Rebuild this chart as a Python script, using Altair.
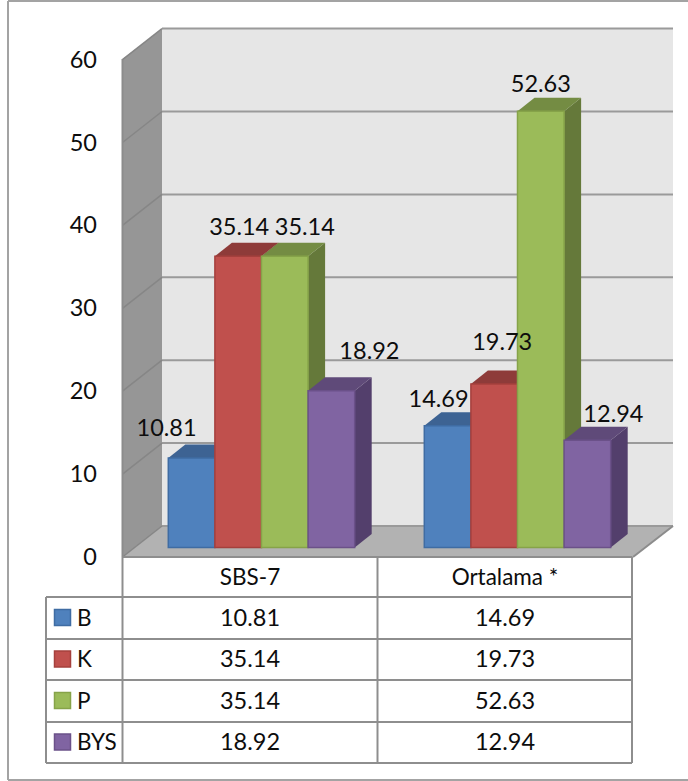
import altair as alt
import pandas as pd

# Chart values
CATEGORIES = ["SBS-7", "Ortalama *"]
SERIES = ["B", "K", "P", "BYS"]
SBS_7 = [10.81, 35.14, 35.14, 18.92]
ORTALAMA = [14.69, 19.73, 52.63, 12.94]
Y_TICKS = [0, 10, 20, 30, 40, 50, 60]

# Face colours per series
FRONT = ["#4F81BD", "#C0504D", "#9BBB59", "#8064A2"]
EDGE = ["#3F6CA3", "#A5403D", "#86A349", "#6B5189"]
TOP = ["#3D6393", "#8E3B39", "#748C43", "#5F4A79"]
SIDE = ["#3A5D88", "#843735", "#65793A", "#533F6C"]

# Layout, in canvas units
W, H = 688, 781
UNIT = 8.29          # canvas units per value unit
BASE = 547.5         # where value 0 sits on the front of the bars
BAR_W = 46.6
GROUP_X = [168.3, 424.3]
DEPTH_X, DEPTH_Y = 17, 13.5
FRONT_0, BACK_0 = 557, 526
WALL_L, WALL_B, WALL_R, FLOOR_R = 122.5, 162, 673, 633
# Label nudges from each bar's centre and top, per category then series
LABEL_DX = [[-25, 1, 20, 38], [-9, 8, 0, 26]]
LABEL_DY = [[-30, -29, -29, -40], [-27, -42, -27, -26]]
FONT = "Lato"
NUMBER_SIZE = 23.5
WORD_SIZE = 22.5
INK = "#0D0D0D"


def u(py):
    """Canvas row converted into value units on the shared y scale."""
    return (BASE - py) / UNIT


X = alt.X("x:Q", axis=None, scale=alt.Scale(domain=[0, W], range=[0, W], nice=False, zero=False))
Y = alt.Y("y:Q", axis=None, scale=alt.Scale(domain=[u(H), u(0)], range=[H, 0], nice=False, zero=False))
X2 = alt.X2("x2:Q")
Y2 = alt.Y2("y2:Q")


def rect(rows, **style):
    return alt.Chart(pd.DataFrame(rows)).mark_rect(**style).encode(x=X, x2=X2, y=Y, y2=Y2)


def side_face(x0, x1, top0, top1, bot0, bot1, color):
    data = pd.DataFrame([
        {"x": x0, "y": top0, "y2": bot0},
        {"x": x1, "y": top1, "y2": bot1},
    ])
    return alt.Chart(data).mark_area(color=color, opacity=1).encode(x=X, y=Y, y2=Y2)


def top_face(y0, y1, x00, x01, x10, x11, color):
    data = pd.DataFrame([
        {"y": y0, "x": x00, "x2": x01},
        {"y": y1, "x": x10, "x2": x11},
    ])
    return alt.Chart(data).mark_area(color=color, opacity=1, orient="horizontal").encode(y=Y, x=X, x2=X2)


def lines(rows, color, width):
    data = pd.DataFrame(
        [{"id": i, "x": p[0], "y": p[1]} for i, r in enumerate(rows) for p in r]
    )
    return alt.Chart(data).mark_line(color=color, strokeWidth=width).encode(
        x=X, y=Y, detail="id:N", order=alt.Order("x:Q")
    )


def labels(rows, align="center", size=NUMBER_SIZE):
    return alt.Chart(pd.DataFrame(rows)).mark_text(
        font=FONT, fontSize=size, align=align, baseline="middle", color=INK, dy=1
    ).encode(x=X, y=Y, text="text:N")


layers = []

# Outer frame
layers.append(lines([
    [(8, u(1)), (W, u(1))],
    [(8, u(780)), (W, u(780))],
    [(8, u(1)), (8, u(780))],
], "#A3A3A3", 2))

# Walls and floor
layers.append(rect([{"x": WALL_B, "x2": WALL_R, "y": u(29), "y2": u(BACK_0)}], color="#E6E6E6"))
layers.append(side_face(WALL_L, WALL_B, u(59), u(29), u(FRONT_0), u(BACK_0), "#969696"))
layers.append(top_face(u(FRONT_0), u(BACK_0), WALL_L, FLOOR_R, WALL_B, WALL_R, "#B2B2B2"))

back_shift = u(BACK_0)
front_shift = u(FRONT_0)
layers.append(lines(
    [[(WALL_B, t + back_shift), (WALL_R, t + back_shift)] for t in Y_TICKS],
    "#9A9A9A", 2,
))
layers.append(lines(
    [[(WALL_L, t + front_shift), (WALL_B, t + back_shift)] for t in Y_TICKS],
    "#868686", 1.5,
))
layers.append(lines([
    [(WALL_L, u(59)), (WALL_L, u(FRONT_0))],
    [(FLOOR_R, front_shift), (WALL_R, back_shift)],
], "#8C8C8C", 2))

# Bars: each series draws its depth faces, then its front
depth = DEPTH_Y / UNIT
for s in range(len(SERIES)):
    vals = [SBS_7[s], ORTALAMA[s]]
    for g, v in enumerate(vals):
        x0 = GROUP_X[g] + s * BAR_W
        x1 = x0 + BAR_W
        layers.append(side_face(x1, x1 + DEPTH_X, v, v + depth, 0, depth, SIDE[s]))
        layers.append(top_face(v, v + depth, x0, x1, x0 + DEPTH_X, x1 + DEPTH_X, TOP[s]))
    layers.append(rect(
        [{"x": GROUP_X[g] + s * BAR_W, "x2": GROUP_X[g] + (s + 1) * BAR_W, "y": v, "y2": 0}
         for g, v in enumerate(vals)],
        color=FRONT[s], stroke=EDGE[s], strokeWidth=1.5,
    ))

# Value labels above the bars
bar_labels = []
for g, vals in enumerate([SBS_7, ORTALAMA]):
    for s, v in enumerate(vals):
        bar_labels.append({
            "x": GROUP_X[g] + (s + 0.5) * BAR_W + LABEL_DX[g][s],
            "y": v - LABEL_DY[g][s] / UNIT,
            "text": f"{v:.2f}",
        })
layers.append(labels(bar_labels))

# Value axis labels on the front edge of the side wall
layers.append(labels(
    [{"x": 97, "y": t + front_shift, "text": str(t)} for t in Y_TICKS],
    align="right",
))

# Data table
ROWS = [597, 639, 680, 722, 763]
COLS = [122.5, 377.5, 632]
TABLE_LEFT = 46
grid = [[(TABLE_LEFT, u(r)), (COLS[-1], u(r))] for r in ROWS]
grid.append([(COLS[0], u(FRONT_0)), (COLS[-1], u(FRONT_0))])
grid += [[(c, u(FRONT_0)), (c, u(ROWS[-1]))] for c in COLS]
grid.append([(TABLE_LEFT, u(ROWS[0])), (TABLE_LEFT, u(ROWS[-1]))])
layers.append(lines(grid, "#8E8E8E", 2))

COL_CENTRES = [250, 505]
layers.append(labels(
    [{"x": COL_CENTRES[i], "y": u(577), "text": c} for i, c in enumerate(CATEGORIES)],
    size=WORD_SIZE,
))
cells, names = [], []
for s, name in enumerate(SERIES):
    mid = (ROWS[s] + ROWS[s + 1]) / 2 - 0.5
    names.append({"x": 77, "y": u(mid), "text": name})
    for g, vals in enumerate([SBS_7, ORTALAMA]):
        cells.append({"x": COL_CENTRES[g], "y": u(mid), "text": f"{vals[s]:.2f}"})
    layers.append(rect(
        [{"x": 54.5, "x2": 70.5, "y": u(mid - 8), "y2": u(mid + 8)}],
        color=FRONT[s], stroke=EDGE[s], strokeWidth=1.5,
    ))
layers.append(labels(cells))
layers.append(labels(names, align="left", size=WORD_SIZE))

chart = alt.layer(*layers).properties(
    width=W, height=H, padding=0, background="white",
    autosize=alt.AutoSizeParams(type="none"),
).configure_view(stroke=None)

chart.save("out.html", embed_options={"renderer": "svg", "actions": False})
